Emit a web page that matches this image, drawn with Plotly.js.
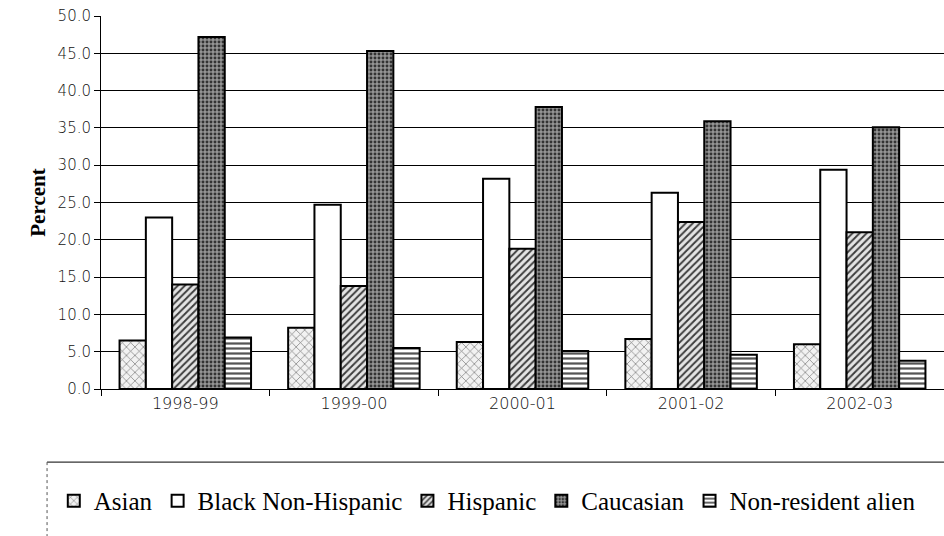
<!DOCTYPE html>
<html>
<head>
<meta charset="utf-8">
<script src="https://cdn.plot.ly/plotly-3.0.1.min.js"></script>
<style>html,body{margin:0;padding:0;background:#fff;}#chart{width:944px;height:536px;}</style>
</head>
<body>
<div id="chart"></div>
<script>
const years = ["1998-99", "1999-00", "2000-01", "2001-02", "2002-03"];
const asian = [6.5, 8.2, 6.3, 6.7, 6.0];
const blackNonHispanic = [23.0, 24.7, 28.2, 26.3, 29.4];
const hispanic = [14.0, 13.8, 18.8, 22.4, 21.0];
const caucasian = [47.2, 45.3, 37.8, 35.9, 35.1];
const nonResidentAlien = [6.9, 5.5, 5.1, 4.6, 3.8];
const seriesNames = ["Asian", "Black Non-Hispanic", "Hispanic", "Caucasian", "Non-resident alien"];

const styles = [
  {color: "#f0f0f0", pattern: {shape: "x", bgcolor: "#f2f2f2", fgcolor: "#7a7a7a", size: 6, solidity: 0.22}},
  {color: "#ffffff", pattern: {shape: "", bgcolor: "#ffffff"}},
  {color: "#ffffff", pattern: {shape: "/", bgcolor: "#e4e4e4", fgcolor: "#3c3c3c", size: 5, solidity: 0.38}},
  {color: "#858585", pattern: {shape: ".", bgcolor: "#959595", fgcolor: "#333333", size: 4, solidity: 0.42}},
  {color: "#ffffff", pattern: {shape: "-", bgcolor: "#ffffff", fgcolor: "#555555", size: 5, solidity: 0.45}}
];
const values = [asian, blackNonHispanic, hispanic, caucasian, nonResidentAlien];

const traces = values.map((v, i) => ({
  type: "bar",
  name: seriesNames[i],
  x: years,
  y: v,
  marker: {
    color: styles[i].color,
    pattern: styles[i].pattern,
    line: {color: "#000000", width: 2}
  },
  hoverinfo: "skip"
}));

const layout = {
  width: 944,
  height: 536,
  margin: {l: 101, r: 0, t: 16, b: 147},
  paper_bgcolor: "#ffffff",
  plot_bgcolor: "#ffffff",
  barmode: "group",
  bargap: 0.22,
  bargroupgap: 0,
  showlegend: true,
  legend: {
    orientation: "h",
    x: -0.056, xanchor: "left",
    y: -0.30, yanchor: "middle",
    font: {family: "'Liberation Serif', 'Times New Roman', serif", size: 25, color: "#000"},
    bgcolor: "rgba(0,0,0,0)",
    itemwidth: 30,
    traceorder: "normal"
  },
  xaxis: {
    type: "category",
    showline: true, linecolor: "#000", linewidth: 1,
    ticks: "outside", tickson: "boundaries", ticklen: 6, tickcolor: "#000",
    tickfont: {family: "DejaVu Sans, sans-serif", size: 16, color: "#111", weight: 200},
    showgrid: false,
    fixedrange: true
  },
  yaxis: {
    range: [0, 50],
    dtick: 5,
    tickformat: ".1f",
    showline: true, linecolor: "#000", linewidth: 1,
    ticks: "outside", ticklen: 6, tickcolor: "#000",
    showgrid: true, gridcolor: "#000", gridwidth: 1,
    zeroline: false,
    tickfont: {family: "DejaVu Sans, sans-serif", size: 15, color: "#111", weight: 200},
    title: {text: "Percent", font: {family: "'Liberation Serif', 'Times New Roman', serif", size: 21, color: "#000", weight: "bold"}, standoff: 6},
    fixedrange: true
  },
  shapes: [
    {type: "line", xref: "paper", yref: "paper", x0: -0.064, x1: 1.05, y0: -0.196, y1: -0.196, line: {color: "#000", width: 1}},
    {type: "line", xref: "paper", yref: "paper", x0: -0.064, x1: -0.064, y0: -0.196, y1: -0.5, line: {color: "#555", width: 1, dash: "dot"}}
  ]
};

Plotly.newPlot("chart", traces, layout, {staticPlot: true, displayModeBar: false});
</script>
</body>
</html>
